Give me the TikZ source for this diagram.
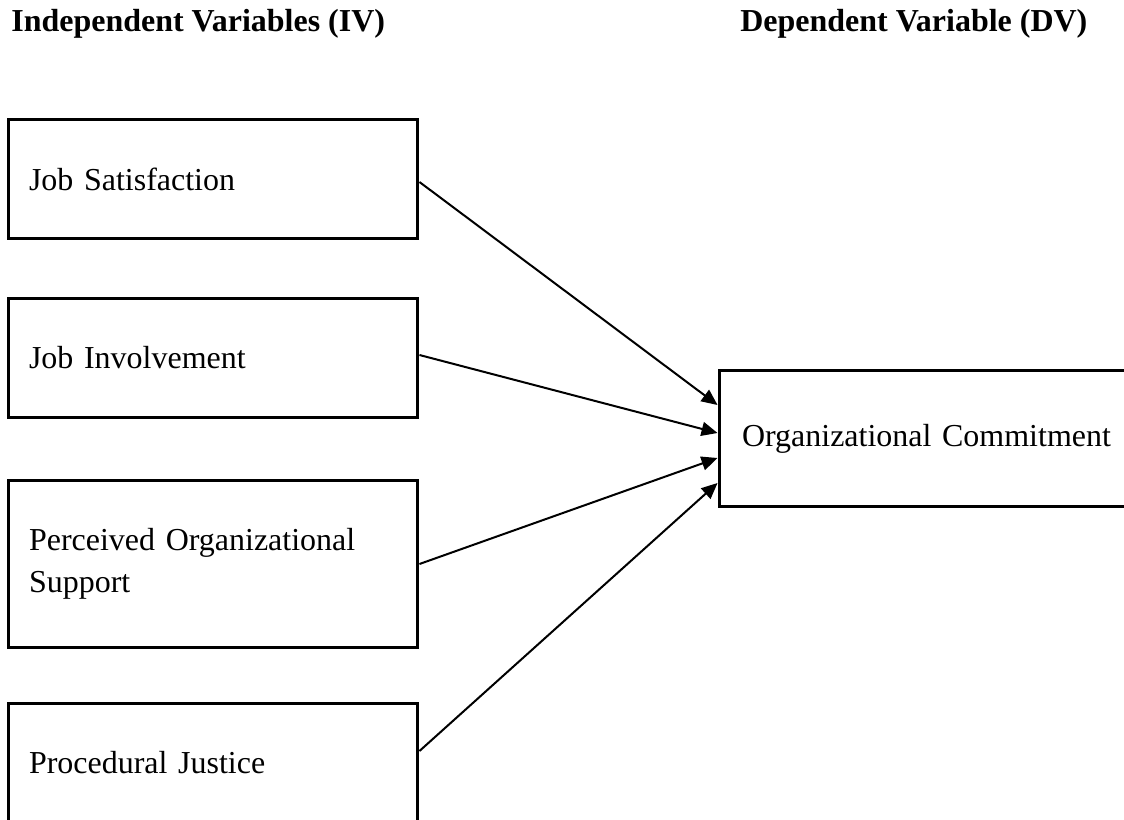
\documentclass[tikz,border=0pt]{standalone}
\usepackage{fontspec}
\setmainfont{Liberation Serif}
\usepackage{tikz}
\usetikzlibrary{arrows.meta}

\begin{document}
\begin{tikzpicture}[x=0.02cm, y=-0.02cm,
	ivbox/.style={shape=rectangle, draw=black, line width=0.06cm,
		text width=7.36cm, inner xsep=0.42cm, minimum height=2.4cm,
		font=\fontsize{18.2}{23.9}\selectfont},
	dvbox/.style={shape=rectangle, draw=black, line width=0.06cm,
		text width=7.8cm, inner xsep=0.46cm, minimum height=2.74cm,
		font=\fontsize{18.2}{23.9}\selectfont},
	head/.style={anchor=base west, inner sep=0pt, font=\fontsize{18.2}{21}\selectfont\bfseries},
	arr/.style={line width=0.04cm, -{Triangle[length=0.32cm, width=0.28cm]}}]
	\clip (0, 0) rectangle (1124, 820);

	\node[head] (iv) at (11, 32)     {Independent Variables (IV)};
	\node[head] (dv) at (740, 32)    {Dependent Variable (DV)};

	\node[ivbox] (js) at (213, 179)   {Job Satisfaction};
	\node[ivbox] (ji) at (213, 358)   {Job Involvement};
	\node[ivbox, minimum height=3.36cm] (pos) at (213, 564) {Perceived Organizational\\Support};
	\node[ivbox] (pj) at (213, 763)   {Procedural Justice};
	\node[dvbox] (oc) at (937, 438.5) {Organizational Commitment};

	\path[arr] ([yshift=-0.06cm]js.east) edge ([yshift=0.67cm]oc.west);
	\path[arr] ([yshift=0.06cm]ji.east)  edge ([yshift=0.11cm]oc.west);
	\path[arr] (pos.east)                edge ([yshift=-0.39cm]oc.west);
	\path[arr] ([yshift=0.24cm]pj.east)  edge ([yshift=-0.89cm]oc.west);

\end{tikzpicture}
\end{document}
